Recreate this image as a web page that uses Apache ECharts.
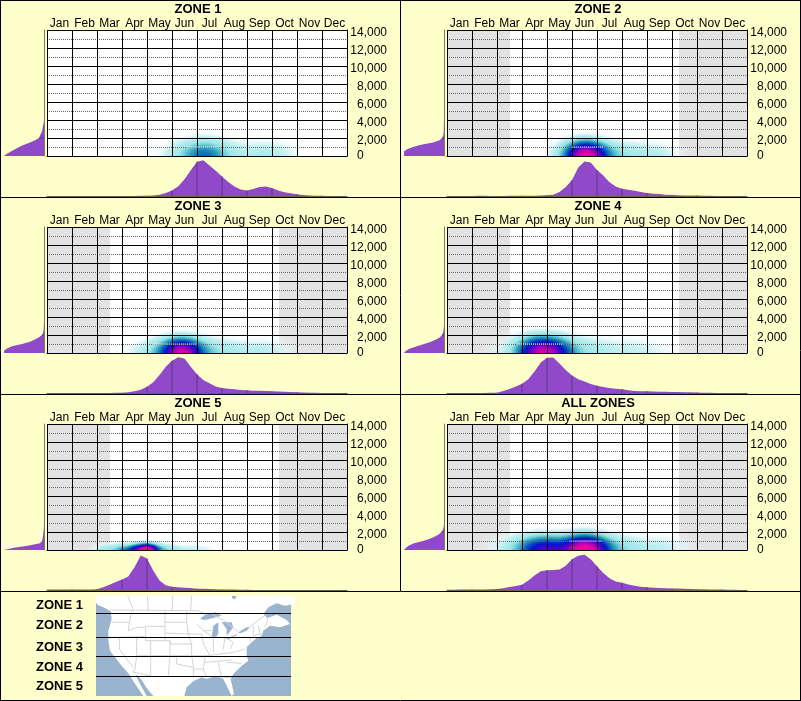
<!DOCTYPE html>
<html>
<head>
<meta charset="utf-8">
<style>
  html, body { margin: 0; padding: 0; background: #ffffcc; }
  #main { width: 801px; height: 701px; }
</style>
</head>
<body>
<div id="main"></div>
<script src="https://cdn.jsdelivr.net/npm/echarts@6/dist/echarts.min.js"></script>
<script>
var months = ['Jan', 'Feb', 'Mar', 'Apr', 'May', 'Jun', 'Jul', 'Aug', 'Sep', 'Oct', 'Nov', 'Dec']
var yTicks = ['0', '2,000', '4,000', '6,000', '8,000', '10,000', '12,000', '14,000']
var zoneNames = ['ZONE 1', 'ZONE 2', 'ZONE 3', 'ZONE 4', 'ZONE 5', 'ALL ZONES']
var mapNames = ['ZONE 1', 'ZONE 2', 'ZONE 3', 'ZONE 4', 'ZONE 5']

// seasonal curve, four readings per month
var season1 = [0,0,0,0, 0,0,0,0, 0,0,0,0, 0,0,0,.2, .3,.6,1.3,3, 5.7,10,17,26, 34.7,36.3,31,25.7, 19.7,14.3,9.7,6.7, 5.7,7,9,9.7, 8,5.7,3.7,2.7, 1.7,1,.6,.3, .2,0,0,0,0]
var season2 = [.1,.1,.1,.1, .1,.2,.2,.1, .1,.1,.2,.2, .3,.3,.3,.4, .7,1.3,4,9, 16.3,29,35,34, 26.3,20.7,14,9.7, 7.3,6.3,5.3,4, 3,2.3,2,1.3, 1,.8,.6,.5, .4,.3,.2,.1, 0,0,0,0,0]
var season3 = [0,0,0,0, 0,0,0,0, .1,.1,.1,.2, .3,.7,1.7,3.3, 6.3,11,18.3,26.7, 32.7,36.3,35,26.7, 19,13.3,10,6.7, 5,4.3,3.7,3, 2.7,2.3,2.3,2, 1.7,1.5,1.2,1, .7,.5,.3,.2, .1,0,0,0,0]
var season4 = [0,0,0,0, .1,.1,.1,.2, .3,2,4,6.7, 9.3,14,21.7,31, 35.7,36,30,23.3, 17.7,14,11.7,9, 7.3,6,5,4.3, 3.7,2.7,2,1.7, 1.7,1.5,1.3,1.2, 1,.9,.8,.7, .5,.3,.2,.1, 0,0,0,0,0]
var season5 = [.5,.5,.5,.5, .5,.5,.5,.5, .7,2.7,5.3,8, 10.7,13.7,23,35, 32,19.7,9.7,4.7, 3.3,2.7,2.3,2, 1.3,1.2,1,.8, .6,.5,.4,.3, .2,.1,.1,.1, 0,0,0,0, 0,0,0,0, 0,0,0,0,0]
var season6 = [.3,.3,.4,.4, .5,.5,.6,.7, 1,1.7,3,4, 5.3,9.7,14.7,19, 20,20.3,20.7,24.7, 31.3,34.7,35.7,31.3, 24,17.3,12,8.7, 7.3,5.7,4.3,3.3, 2.7,2.3,2,1.8, 1.6,1.4,1.2,1, .8,.7,.6,.5, .4,.3,.2,.1,0]
var seasons = [season1, season2, season3, season4, season5, season6]

// elevation curve, one reading per 250 ft from 0 up
var elev1 = [40,37,33,29,25,20,14,9,5,4,3,2,1.5,1.2,.6,.2,0]
var elev2 = [40,40,40,37,31,23,11,4.5,2,.8,.5,.3,.3,.2,.2,.1,0]
var elev3 = [40,40,37,32,22,14,9,5,2,1,.5,.3,.2,.1,0]
var elev4 = [40,38,34,27,20,13,8,4,2,1,.5,.3,.1,0]
var elev5 = [40,30,15,4,2,1.5,1,.8,.5,.3,.2,.1,0]
var elev6 = [40,38,35,30,21,14,9,5,2.5,1.2,.4,.2,0]
var elevs = [elev1, elev2, elev3, elev4, elev5, elev6]
var elevBins = []
for (var b = 0; b <= 14000; b += 250) elevBins.push(b)

// density hot spots: month, elevation, weight (a spot can appear twice, they add up)
var heat1 = [[4.5,0,.05],[4.75,0,.1],[5,0,.15],[5.25,0,.22],[5.5,0,.3],[5.75,0,.45],[6,0,.65],[6.25,0,.73],[6.5,0,.7],[6.75,0,.5],[7,0,.33],[7.25,0,.25],[7.5,0,.2],[7.75,0,.16],[8,0,.15],[8.25,0,.17],[8.5,0,.2],[8.75,0,.22],[9,0,.21],[9.25,0,.17],[9.5,0,.13],[9.75,0,.08],[10,0,.05]]
var heat2 = [[4,0,.04],[4.25,0,.1],[4.5,0,.2],[4.75,0,.4],[5,0,.9],[5.25,0,1],[5.25,0,.8],[5.5,0,1],[5.5,0,1],[5.5,0,.2],[5.75,0,1],[5.75,0,1],[6,0,1],[6,0,.3],[6.25,0,.7],[6.5,0,.45],[6.75,0,.35],[7,0,.3],[7.25,0,.28],[7.5,0,.25],[7.75,0,.22],[8,0,.2],[8.25,0,.2],[8.5,0,.2],[8.75,0,.15],[9,0,.1],[9.25,0,.05]]
var heat3 = [[3,0,.04],[3.25,0,.07],[3.5,0,.1],[3.75,0,.15],[4,0,.22],[4.25,0,.3],[4.5,0,.45],[4.75,0,.75],[5,0,1],[5,0,.3],[5.25,0,1],[5.25,0,1],[5.5,0,1],[5.5,0,1],[5.75,0,1],[5.75,0,.3],[6,0,.8],[6.25,0,.5],[6.5,0,.38],[6.75,0,.3],[7,0,.27],[7.25,0,.24],[7.5,0,.22],[7.75,0,.2],[8,0,.2],[8.5,0,.4],[9,0,.3],[9.5,0,.15]]
var heat4 = [[1.75,0,.03],[2,0,.06],[2.25,0,.1],[2.5,0,.18],[2.75,0,.35],[3,0,.7],[3.25,0,1],[3.25,0,.2],[3.5,0,1],[3.5,0,.8],[3.75,0,1],[3.75,0,1],[3.75,0,.1],[4,0,1],[4,0,1],[4,0,.1],[4.25,0,1],[4.25,0,.7],[4.5,0,1],[4.5,0,.2],[4.75,0,.75],[5,0,.5],[5.25,0,.38],[5.5,0,.32],[5.75,0,.27],[6,0,.25],[6.25,0,.23],[6.5,0,.2],[7,0,.36],[7.5,0,.3],[8,0,.25],[8.5,0,.18],[9,0,.1]]
var heat5 = [[2,0,.2],[2.25,0,.35],[2.5,0,.4],[2.75,0,.5],[3,0,.75],[3.25,0,.85],[3.5,0,1],[3.5,0,.5],[3.75,0,1],[3.75,0,1],[4,0,1],[4,0,1],[4,0,1],[4.25,0,1],[4.25,0,.7],[4.5,0,.8],[4.75,0,.5],[5,0,.35],[5.25,0,.28],[5.5,0,.22],[5.75,0,.2],[6,0,.2],[6.25,0,.16],[6.5,0,.12],[3.9,700,.15],[3.6,500,.1],[4.2,500,.1]]
var heat6 = [[1.75,0,.05],[2,0,.1],[2.25,0,.15],[2.5,0,.22],[2.75,0,.35],[3,0,.55],[3.25,0,.8],[3.5,0,.9],[3.75,0,.95],[3.75,0,.3],[4,0,.95],[4,0,.3],[4.25,0,.9],[4.25,0,.2],[4.5,0,.8],[4.75,0,.9],[5,0,1],[5,0,.4],[5.25,0,1],[5.25,0,1],[5.5,0,1],[5.5,0,1],[5.5,0,.2],[5.75,0,1],[5.75,0,1],[6,0,1],[6,0,.4],[6.25,0,.9],[6.5,0,.55],[6.75,0,.4],[7,0,.33],[7.25,0,.28],[7.5,0,.25],[7.75,0,.22],[8,0,.2],[8.5,0,.35],[9,0,.25],[9.5,0,.1]]
var heats = [heat1, heat2, heat3, heat4, heat5, heat6]
var heatPointSize = [9, 8, 8, 8, 4, 8]
var heatBlurSize = [20, 18, 18, 20, 6, 18]

// months outside this span are shaded grey, ZONE 1 has none
var shadeFrom = [null, 2.52, 2.52, 2.52, 2.52, 2.52]
var shadeTo = [null, 9.28, 9.28, 9.28, 9.28, 9.28]
// the 1,000 ft dotted line turns white across the dark part of the blob
var lightFrom = [5.6, 5.0, 4.25, 2.8, null, 4.9]
var lightTo = [6.9, 6.25, 6.0, 4.65, null, 6.2]

// traced map shapes, in 3x pixels from (90,594)
var land = [[18,6],[615,6],[615,30],[585,35],[560,28],[535,40],[520,60],[532,72],[560,62],[590,78],[600,90],[570,100],[540,95],[520,110],[515,125],[500,132],[485,145],[470,160],[470,185],[475,200],[455,215],[430,240],[422,255],[432,300],[425,306],[410,275],[400,255],[385,248],[365,250],[350,255],[335,250],[310,262],[290,280],[283,306],[190,306],[172,285],[155,258],[143,245],[137,243],[150,270],[170,306],[160,306],[130,262],[115,238],[97,218],[75,190],[60,170],[55,140],[55,110],[65,75],[62,52],[45,42],[22,32],[18,25]]
var lakes = [
  [[330,75],[345,62],[375,55],[395,65],[370,72],[345,78]],
  [[365,130],[370,95],[385,85],[385,120],[375,132]],
  [[395,85],[425,85],[430,100],[410,125],[410,105]],
  [[405,135],[430,125],[445,118],[440,124],[415,136]],
  [[445,115],[470,100],[480,98],[470,110],[450,118]],
  [[425,6],[440,6],[435,16],[428,14]]
]
var borders = [
  [[60,48],[325,50],[345,60]], [[113,6],[130,48]], [[172,6],[175,48]], [[247,6],[247,48]], [[305,6],[302,48]],
  [[65,85],[118,85]], [[58,130],[165,128]], [[125,50],[118,85],[115,110],[140,100],[165,100]],
  [[167,97],[225,97],[225,140],[167,140],[167,97]], [[225,50],[225,97]], [[225,85],[290,85]], [[225,117],[295,120]],
  [[225,140],[240,140],[240,150],[305,150]], [[290,50],[290,85],[295,120],[305,150],[305,185]],
  [[182,140],[182,185],[240,185],[240,140]], [[140,128],[140,185],[182,185]], [[88,128],[88,165],[130,222]],
  [[140,185],[135,225],[128,234],[180,245]], [[182,185],[182,245]], [[240,185],[235,245]], [[240,185],[305,185],[310,220]],
  [[260,190],[260,210],[310,220],[310,250]], [[305,185],[360,185],[340,150],[335,120],[295,120]],
  [[310,225],[340,225],[345,190]], [[340,225],[350,250]], [[345,205],[425,198]], [[350,185],[430,175],[465,165]],
  [[385,205],[395,250],[422,250]], [[410,205],[455,208]], [[340,110],[370,130],[370,175]], [[370,130],[405,130],[400,165]],
  [[405,130],[430,145],[420,165]], [[320,90],[340,110],[365,110]], [[425,130],[480,130],[480,145]], [[490,95],[490,125],[515,120]],
  [[505,95],[510,120]], [[535,70],[525,100]], [[365,60],[410,85],[445,115]], [[480,98],[530,60]]
]
var mapBandLines = [58, 131, 187, 247]

var option = {
  backgroundColor: '#ffffcc',
  animation: false,
  textStyle: { fontFamily: 'Liberation Sans' },
  title: [],
  grid: [],
  xAxis: [],
  yAxis: [],
  geo: [],
  series: [],
  visualMap: {
    show: false,
    type: 'continuous',
    min: 0,
    max: 1,
    seriesIndex: [],
    inRange: { color: ['#ffffff', '#d8f4f6', '#b0ecee', '#a0e6e8', '#60c8d4', '#2a98bc', '#0860bc', '#0018c4', '#6000c8', '#f000a0', '#ff0068'] }
  }
}

// one square map so the heatmap gets its blurred layer, scaled to month and elevation
echarts.registerMap('panel', {
  type: 'FeatureCollection',
  features: [{
    type: 'Feature',
    properties: { name: 'panel' },
    geometry: { type: 'Polygon', coordinates: [[[0, 0], [12, 0], [12, 14000], [0, 14000], [0, 0]]] }
  }]
})

zoneNames.forEach(function (name, i) {
  var ox = i % 2 * 400
  var oy = Math.floor(i / 2) * 197
  var gridMain = option.grid.length
  var xMain = option.xAxis.length
  var yMain = option.yAxis.length

  option.title.push({
    text: name,
    left: ox + 198,
    top: oy + 3,
    padding: 0,
    textAlign: 'center',
    textStyle: { fontFamily: 'Liberation Sans', fontSize: 13, fontWeight: 'bold', color: '#000' }
  })

  // main density panel
  option.grid.push({ left: ox + 47, top: oy + 30, width: 300, height: 126, show: true, backgroundColor: '#fff', borderWidth: 0 })
  option.xAxis.push({
    type: 'value', gridIndex: gridMain, min: 0, max: 12, interval: 1, position: 'bottom', z: 3,
    axisLine: { show: true, lineStyle: { color: '#000' } },
    axisTick: { show: false },
    axisLabel: { show: false },
    splitLine: { show: true, lineStyle: { color: '#000', width: 1 } }
  })
  option.xAxis.push({
    type: 'category', gridIndex: gridMain, data: months, position: 'top', z: 3,
    axisLine: { show: false },
    axisTick: { show: false },
    axisLabel: { fontFamily: 'Liberation Sans', fontSize: 12, color: '#000', margin: 0, interval: 0 }
  })
  option.yAxis.push({
    type: 'value', gridIndex: gridMain, min: 0, max: 14000, interval: 2000, position: 'right', z: 3,
    axisLine: { show: true, onZero: false, lineStyle: { color: '#000' } },
    axisTick: { show: false },
    minorTick: { show: false, splitNumber: 2 },
    axisLabel: {
      fontFamily: 'Liberation Sans', fontSize: 12, color: '#000', align: 'right', margin: 40,
      verticalAlign: 'top', lineHeight: 6, verticalAlignMinLabel: 'middle',
      formatter: function (v) {
        return v === 0 ? '0\u00a0\u00a0\u00a0\u00a0\u00a0\u00a0\u00a0' : yTicks[v / 2000]
      }
    },
    splitLine: { show: true, lineStyle: { color: '#000', width: 1 } },
    minorSplitLine: { show: true, lineStyle: { color: '#666', width: 1, type: 'dotted' } }
  })

  // grey out of season bands
  if (shadeFrom[i] !== null) {
    option.series.push({
      type: 'line', xAxisIndex: xMain, yAxisIndex: yMain, data: [], silent: true,
      markArea: {
        silent: true,
        z: 1,
        itemStyle: { color: '#e2e2e2' },
        data: [
          [{ xAxis: 0 }, { xAxis: shadeFrom[i] }],
          [{ xAxis: shadeTo[i] }, { xAxis: 12 }]
        ]
      }
    })
  }

  // density blob, geo sits exactly on the grid
  option.geo.push({
    map: 'panel',
    left: ox + 47, top: oy + 30, width: 300, height: 126,
    aspectScale: (300 / 126) / (12 / 14000),
    silent: true,
    z: 0,
    label: { show: false },
    itemStyle: { color: 'transparent', borderWidth: 0 },
    emphasis: { disabled: true }
  })
  option.visualMap.seriesIndex.push(option.series.length)
  option.series.push({
    type: 'heatmap', coordinateSystem: 'geo', geoIndex: i, z: 2, silent: true,
    pointSize: heatPointSize[i], blurSize: heatBlurSize[i], minOpacity: 0, maxOpacity: 8,
    data: heats[i]
  })

  if (lightFrom[i] !== null) {
    option.series.push({
      type: 'line', xAxisIndex: xMain, yAxisIndex: yMain, z: 4, silent: true, symbol: 'none',
      lineStyle: { color: '#fff', width: 1, type: 'dotted' },
      data: [[lightFrom[i], 1000], [lightTo[i], 1000]]
    })
  }

  // seasonal curve under the panel
  var seasonLine = seasons[i].map(function (v, k) { return [k / 4, v] })
  var monthLines = []
  for (var m = 1; m < 12; m++) monthLines.push([m, seasons[i][m * 4]])
  option.grid.push({ left: ox + 47, top: oy + 160, width: 300, height: 36 })
  option.xAxis.push({
    type: 'value', gridIndex: gridMain + 1, min: 0, max: 12,
    axisLine: { show: true, lineStyle: { color: '#66664d' } },
    axisTick: { show: false }, axisLabel: { show: false }, splitLine: { show: false }
  })
  option.yAxis.push({ type: 'value', gridIndex: gridMain + 1, min: 0, max: 36.5, show: false })
  option.series.push({
    type: 'line', xAxisIndex: xMain + 2, yAxisIndex: yMain + 1, symbol: 'none', silent: true,
    lineStyle: { width: 0 }, areaStyle: { color: '#9049c8', opacity: 1 }, data: seasonLine
  })
  option.series.push({
    type: 'bar', xAxisIndex: xMain + 2, yAxisIndex: yMain + 1, barWidth: 1, silent: true, z: 3,
    itemStyle: { color: '#5c3a80' }, data: monthLines
  })

  // elevation curve left of the panel
  var elevMarks = elevBins.map(function (alt, k) {
    return alt > 0 && alt % 2000 === 0 && elevs[i][k] ? elevs[i][k] : null
  })
  option.grid.push({ left: ox + 4, top: oy + 30, width: 40, height: 126 })
  option.xAxis.push({ type: 'value', gridIndex: gridMain + 2, min: 0, max: 40, inverse: true, show: false })
  option.yAxis.push({
    type: 'category', gridIndex: gridMain + 2, data: elevBins, boundaryGap: false, position: 'right',
    axisLine: { show: true, lineStyle: { color: '#7a7a60' } },
    axisTick: { show: false }, axisLabel: { show: false }, splitLine: { show: false }
  })
  option.series.push({
    type: 'line', xAxisIndex: xMain + 3, yAxisIndex: yMain + 2, symbol: 'none', silent: true,
    lineStyle: { width: 0 }, areaStyle: { color: '#9049c8', opacity: 1 }, data: elevs[i]
  })
  option.series.push({
    type: 'bar', xAxisIndex: xMain + 3, yAxisIndex: yMain + 2, barWidth: 1, silent: true, z: 3,
    itemStyle: { color: '#5c3a80' }, data: elevMarks
  })
})

function mapPts (pts) {
  return pts.map(function (p) { return [90 + p[0] / 3, 594 + p[1] / 3] })
}
function frameLine (x1, y1, x2, y2) {
  return { type: 'line', silent: true, z: 10, shape: { x1: x1, y1: y1, x2: x2, y2: y2 }, style: { stroke: '#000', lineWidth: 1 } }
}

var graphics = [
  frameLine(0.5, 0, 0.5, 701), frameLine(400.5, 0, 400.5, 591), frameLine(800.5, 0, 800.5, 701),
  frameLine(0, 0.5, 801, 0.5), frameLine(0, 197.5, 801, 197.5), frameLine(0, 394.5, 801, 394.5),
  frameLine(0, 591.5, 801, 591.5), frameLine(0, 700.5, 801, 700.5)
]
graphics.push({ type: 'rect', silent: true, z: 5, shape: { x: 96, y: 596, width: 195, height: 100 }, style: { fill: '#9ab3cf' } })
graphics.push({ type: 'polygon', silent: true, z: 5, shape: { points: mapPts(land) }, style: { fill: '#fff' } })
lakes.forEach(function (lake) {
  graphics.push({ type: 'polygon', silent: true, z: 5, shape: { points: mapPts(lake) }, style: { fill: '#9ab3cf' } })
})
borders.forEach(function (line) {
  graphics.push({ type: 'polyline', silent: true, z: 6, shape: { points: mapPts(line) }, style: { stroke: '#d4d4d4', lineWidth: 1, fill: null } })
})
mapBandLines.forEach(function (y) {
  var py = Math.floor(594 + y / 3) + 0.5
  graphics.push({ type: 'line', silent: true, z: 7, shape: { x1: 96, y1: py, x2: 291, y2: py }, style: { stroke: '#000', lineWidth: 1 } })
})
var mapLabelY = [605, 625, 647, 667, 686]
mapNames.forEach(function (name, i) {
  graphics.push({
    type: 'text', silent: true, z: 7, x: 36, y: mapLabelY[i],
    style: { text: name, fill: '#000', font: 'bold 13px "Liberation Sans"', verticalAlign: 'middle' }
  })
})
option.graphic = graphics

var myChart = echarts.init(document.getElementById('main'))
myChart.setOption(option)
</script>
</body>
</html>
